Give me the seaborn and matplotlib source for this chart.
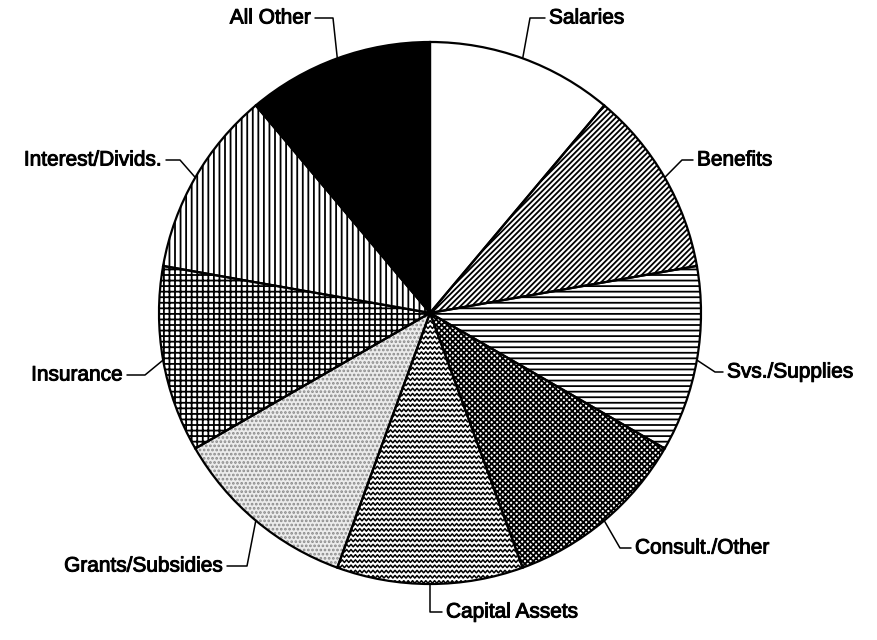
import numpy as np
import seaborn as sns
import matplotlib
matplotlib.use("Agg")
import matplotlib.pyplot as plt
import matplotlib.patheffects as pe

sns.set_style("white")
plt.rcParams["font.family"] = ["Liberation Sans", "DejaVu Sans"]
plt.rcParams["hatch.linewidth"] = 1.3

# Slice data (clockwise from 12 o'clock)
categories = ["Salaries", "Benefits", "Svs./Supplies", "Consult./Other", "Capital Assets",
              "Grants/Subsidies", "Insurance", "Interest/Divids.", "All Other"]
shares = [11.1, 11.1, 11.1, 11.1, 11.1, 11.1, 11.1, 11.1, 11.1]

hatches = ["", "//////", "---", "xxxxxx", "", "....", "+++", "|||", ""]
faces = ["white", "white", "white", "white", "white", "#ececec", "white", "white", "black"]
hatch_cols = ["black", "black", "black", "black", "black", "#8a8a8a", "black", "black", "black"]

W, H, DPI = 877, 640, 100
fig = plt.figure(figsize=(W / DPI, H / DPI), dpi=DPI)
ax = fig.add_axes([0, 0, 1, 1])

R = 271.0
cx, cy = 430.0, 313.0

wedges, _ = ax.pie(shares, startangle=90, counterclock=False, radius=1.0,
                   wedgeprops=dict(linewidth=0))
for w, h, fc, hc in zip(wedges, hatches, faces, hatch_cols):
    w.set_facecolor(fc)
    w.set_edgecolor(hc)
    w.set_linewidth(0)
    w.set_hatch(h)

# wavy fill for Capital Assets
cap = wedges[4]
half = 2.2 / R
amp = 1.3 / R
xs = np.arange(-0.6, 0.6, half)
zig = np.where(np.arange(len(xs)) % 2 == 0, amp, -amp)
for y0 in np.arange(-1.05, 0.02, 5.2 / R):
    ln, = ax.plot(xs, y0 + zig, color="black", lw=1.1)
    ln.set_clip_path(cap)

# outlines
ax.pie(shares, startangle=90, counterclock=False, radius=1.0,
       wedgeprops=dict(fill=False, edgecolor="black", linewidth=1.6))

# leader lines and labels: elbow, end of horizontal dash (pixels)
def px(x, y):
    return (x - cx) / R, (cy - y) / R

angles = np.cumsum([0] + shares[:-1]) + np.array(shares) / 2
angles = angles / sum(shares) * 360
elbows = [(530, 18), (682, 160), (715, 372), (620, 548), (430, 612),
          (247, 566), (145, 375), (180, 160), (333, 18)]
dash_ends = [545, 693, 723, 631, 442, 227, 127, 166, 315]
for lab, a, (ex, ey), de in zip(categories, angles, elbows, dash_ends):
    t = np.deg2rad(a)
    p0 = (np.sin(t), np.cos(t))
    p1 = px(ex, ey)
    p2 = px(de, ey)
    ax.plot([p0[0], p1[0], p2[0]], [p0[1], p1[1], p2[1]], color="black", lw=1.1)
    s = 1 if de > ex else -1
    ax.text(p2[0] + s * 4 / R, p2[1], lab, ha="left" if s > 0 else "right",
            va="center", fontsize=15, color="black",
            path_effects=[pe.withStroke(linewidth=0.7, foreground="black")])

ax.set_xlim(-cx / R, (W - cx) / R)
ax.set_ylim(-(H - cy) / R, cy / R)
ax.set_aspect("auto")
ax.axis("off")

fig.savefig("out.png", dpi=DPI, facecolor="white")
